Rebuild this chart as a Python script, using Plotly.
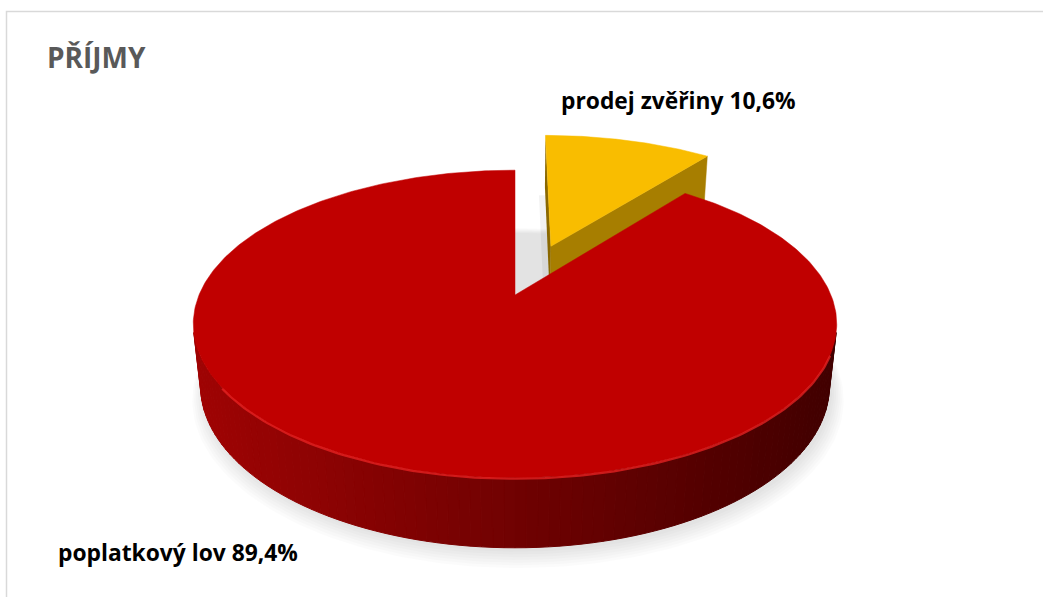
import numpy as np
import plotly.graph_objects as go

# ---------------- data ----------------
categories = ["prodej zvěřiny", "poplatkový lov"]
shares = [10.6, 89.4]            # percent
explode = [0.37, 0.0]            # pull-out distance (in pie radii)
colors_top = ["#F9BD00", "#C00000"]
title_text = "PŘÍJMY"
label_text = ["prodej zvěřiny 10,6%", "poplatkový lov 89,4%"]

# ---------------- view / layout constants ----------------
W, H = 1043, 597
CX, CY = 515.0, 295.0          # screen position of pie centre
F = 1481.0                      # focal length (px)
DIST = 4.687                    # camera distance (radii)
ELEV = np.radians(28.0)         # camera elevation
THICK = 0.224                   # pie thickness (radii)
S, C = np.sin(ELEV), np.cos(ELEV)


def proj(u, v, h):
    u = np.asarray(u, float)
    v = np.asarray(v, float)
    ycam = v * S + h * C
    w = DIST + v * C - h * S
    return CX + F * u / w, CY - F * ycam / w


def rim(t0, t1, h, off=(0.0, 0.0), n=120):
    t = np.radians(np.linspace(t0, t1, n))
    return proj(off[0] + np.sin(t), off[1] + np.cos(t), h)


fig = go.Figure()


def poly(x, y, fill, line=None, lw=0.0):
    x = list(x) + [x[0]]
    y = list(y) + [y[0]]
    fig.add_trace(go.Scatter(x=x, y=y, mode="lines", fill="toself",
                             fillcolor=fill,
                             line=dict(color=line or fill, width=lw),
                             hoverinfo="skip", showlegend=False))


# slice angles (clockwise from 12 o'clock)
total = sum(shares)
bounds = np.concatenate([[0.0], np.cumsum(shares) / total * 360.0])

# ---------------- shadow ----------------
bx, by = rim(0, 360, -THICK, n=240)
for k in range(7):
    sc = 1.0 + 0.006 * k
    poly(CX + (bx - CX) * sc + 3, CY + (by - CY) * sc + 4 + 1.2 * k,
         "rgba(0,0,0,0.016)")

# ---------------- exploded slice (yellow, behind) ----------------
i = 0
t0, t1 = bounds[i], bounds[i + 1]
mid = np.radians((t0 + t1) / 2)
off = (explode[i] * np.sin(mid), explode[i] * np.cos(mid))
ax_t, ay_t = proj(off[0], off[1], 0.0)
ax_b, ay_b = proj(off[0], off[1], -THICK)
# soft shadow of the pulled slice
sx, sy = rim(t0, t1, -THICK, off)
poly([float(ax_b) - 6] + list(sx - 6), [float(ay_b) + 4] + list(sy + 8),
     "rgba(0,0,0,0.05)")
# left radial face
rx_t, ry_t = proj(off[0] + np.sin(np.radians(t0)), off[1] + np.cos(np.radians(t0)), 0.0)
rx_b, ry_b = proj(off[0] + np.sin(np.radians(t0)), off[1] + np.cos(np.radians(t0)), -THICK)
poly([ax_t, rx_t, rx_b, ax_b], [ay_t, ry_t, ry_b, ay_b], "#8A6800")
# right radial face
rx_t, ry_t = proj(off[0] + np.sin(np.radians(t1)), off[1] + np.cos(np.radians(t1)), 0.0)
rx_b, ry_b = proj(off[0] + np.sin(np.radians(t1)), off[1] + np.cos(np.radians(t1)), -THICK)
poly([ax_t, rx_t, rx_b, ax_b], [ay_t, ry_t, ry_b, ay_b], "#A77E00", lw=0.5)
# top face
tx, ty = rim(t0, t1, 0.0, off)
poly([float(ax_t)] + list(tx), [float(ay_t)] + list(ty), colors_top[i], lw=0.5)

# ---------------- main slice (red) ----------------
i = 1
t0, t1 = bounds[i], bounds[i + 1]
off = (explode[i] * np.sin(np.radians((t0 + t1) / 2)),
       explode[i] * np.cos(np.radians((t0 + t1) / 2)))
# visible side: where outward normal faces the camera
lim = np.degrees(np.arccos(-1.0 / (DIST * C)))
s0, s1 = max(t0, lim), min(t1, 360 - lim)
N = 90
ts = np.linspace(s0, s1, N + 1)
tx_all, _ = rim(s0, s1, 0.0, off, n=N + 1)
xmin, xmax = tx_all.min(), tx_all.max()
for k in range(N):
    a, b = ts[k], ts[k + 1]
    xt, yt = rim(a, b, 0.0, off, n=3)
    xb, yb = rim(b, a, -THICK, off, n=3)
    xs = list(xt) + list(xb)
    ys = list(yt) + list(yb)
    tn = (np.mean(xs) - xmin) / (xmax - xmin)
    r = int(160 - 95 * tn)
    col = f"rgb({r},{int(4 * (1 - tn))},{int(4 * (1 - tn))})"
    poly(xs, ys, col, lw=1.0)
# top face
ax_t, ay_t = proj(off[0], off[1], 0.0)
tx, ty = rim(t0, t1, 0.0, off, n=400)
poly([float(ax_t)] + list(tx), [float(ay_t)] + list(ty), colors_top[i], lw=0.5)
# rim highlight on the near edge
hx, hy = rim(112, 236, 0.0, off, n=120)
fig.add_trace(go.Scatter(x=hx, y=hy + 1.0, mode="lines",
                         line=dict(color="rgba(235,35,35,0.75)", width=2.2),
                         hoverinfo="skip", showlegend=False))

# ---------------- texts ----------------
FONT = "Open Sans"
fig.add_annotation(x=45, y=57, xref="x", yref="y", text=title_text,
                   showarrow=False, xanchor="left", yanchor="middle",
                   font=dict(family=FONT, size=28, color="#595959", weight="bold"))
fig.add_annotation(x=678, y=100, xref="x", yref="y", text=label_text[0],
                   showarrow=False, xanchor="center", yanchor="middle",
                   font=dict(family=FONT, size=22.8, color="#000000", weight="bold"))
fig.add_annotation(x=178, y=552, xref="x", yref="y", text=label_text[1],
                   showarrow=False, xanchor="center", yanchor="middle",
                   font=dict(family=FONT, size=22.8, color="#000000", weight="bold"))

# chart border
fig.add_shape(type="rect", xref="x", yref="y", x0=6.5, y0=11.5, x1=1080, y1=640,
              line=dict(color="#D9D9D9", width=1.5), fillcolor="rgba(0,0,0,0)")

fig.update_layout(
    width=W, height=H, margin=dict(l=0, r=0, t=0, b=0),
    paper_bgcolor="white", plot_bgcolor="white",
    xaxis=dict(range=[0, W], visible=False, fixedrange=True),
    yaxis=dict(range=[H, 0], visible=False, fixedrange=True),
    showlegend=False,
)

fig.write_html("out.html", config={"displayModeBar": False},
               post_script="document.body.style.margin='0';")
